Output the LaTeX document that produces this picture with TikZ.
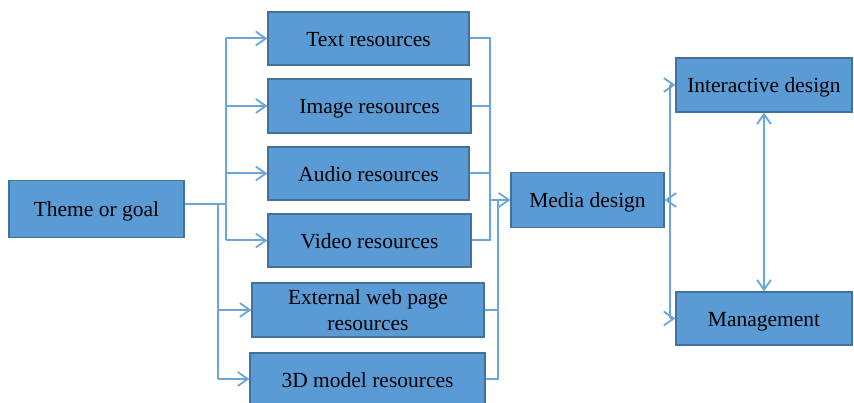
\documentclass[tikz,border=0pt]{standalone}
\usepackage{fontspec}
\setmainfont{Liberation Serif}
\usetikzlibrary{arrows.meta}
\definecolor{boxfill}{HTML}{5B9BD5}
\definecolor{boxline}{HTML}{41719C}
\definecolor{wire}{HTML}{6AA5DC}
\begin{document}
\begin{tikzpicture}[x=1pt,y=-1pt,
  box/.style={draw=boxline,fill=boxfill,line width=1.3pt,inner sep=0pt,
    text height=16pt,text depth=0pt,
    font=\fontsize{21.5}{26}\selectfont,align=center},
  wireline/.style={draw=wire,line width=2pt},
  arr/.style={wireline,-{Straight Barb[length=10pt,width=14pt,line width=1.8pt]}},
  darr/.style={wireline,{Straight Barb[length=10pt,width=14pt,line width=1.8pt]}-{Straight Barb[length=10pt,width=14pt,line width=1.8pt]}}]
\useasboundingbox (0,0) rectangle (854,403);

% boxes
\node[box,minimum width=175pt,minimum height=57pt] (goal) at (96.5,209) {Theme or goal};
\node[box,minimum width=201pt,minimum height=53pt] (text) at (368.5,38.5) {Text resources};
\node[box,minimum width=203pt,minimum height=54pt] (image) at (369.5,106) {Image resources};
\node[box,minimum width=201pt,minimum height=53pt] (audio) at (368.5,173.5) {Audio resources};
\node[box,minimum width=203pt,minimum height=53pt] (video) at (369.5,240.5) {Video resources};
\node[box,minimum width=232pt,minimum height=54pt,text height={},text depth={}] (web) at (368,310) {External web page\\resources};
\node[box,minimum width=235pt,minimum height=52pt] (model) at (367.5,379) {3D model resources};
\node[box,minimum width=153pt,minimum height=55pt] (media) at (587.5,200) {Media design};
\node[box,minimum width=176pt,minimum height=54pt] (inter) at (764,85) {Interactive design};
\node[box,minimum width=176pt,minimum height=53pt] (manage) at (764,318.5) {Management};

% junction points
\coordinate (ga) at (226,204);
\coordinate (gb) at (218,204);
\coordinate (ma) at (490,200);
\coordinate (mb) at (498,200);
\coordinate (rt) at (670,200);

% from the goal to the resources
\draw[wireline] (goal.east |- ga) -- (ga);
\draw[wireline] (ga |- text) -- (ga |- video);
\draw[arr] (ga |- text) -- (text.west);
\draw[arr] (ga |- image) -- (image.west);
\draw[arr] (ga |- audio) -- (audio.west);
\draw[arr] (ga |- video) -- (video.west);
\draw[wireline] (gb) -- (gb |- model);
\draw[arr] (gb |- web) -- (web.west);
\draw[arr] (gb |- model) -- (model.west);

% from the resources to media design
\draw[wireline] (text.east) -- (ma |- text) -- (ma |- video) -- (video.east);
\draw[wireline] (image.east) -- (ma |- image);
\draw[wireline] (audio.east) -- (ma |- audio);
\draw[wireline] (web.east) -- (mb |- web);
\draw[wireline] (model.east) -- (mb |- model) -- (mb);
\draw[arr] (ma) -- (media.west);

% media design, interaction and management
\draw[wireline] (rt |- inter) -- (rt |- manage);
\draw[arr] (rt) -- (media.east);
\draw[arr] (rt |- inter) -- (inter.west);
\draw[arr] (rt |- manage) -- (manage.west);
\draw[darr] (inter.south) -- (manage.north);
\end{tikzpicture}
\end{document}
